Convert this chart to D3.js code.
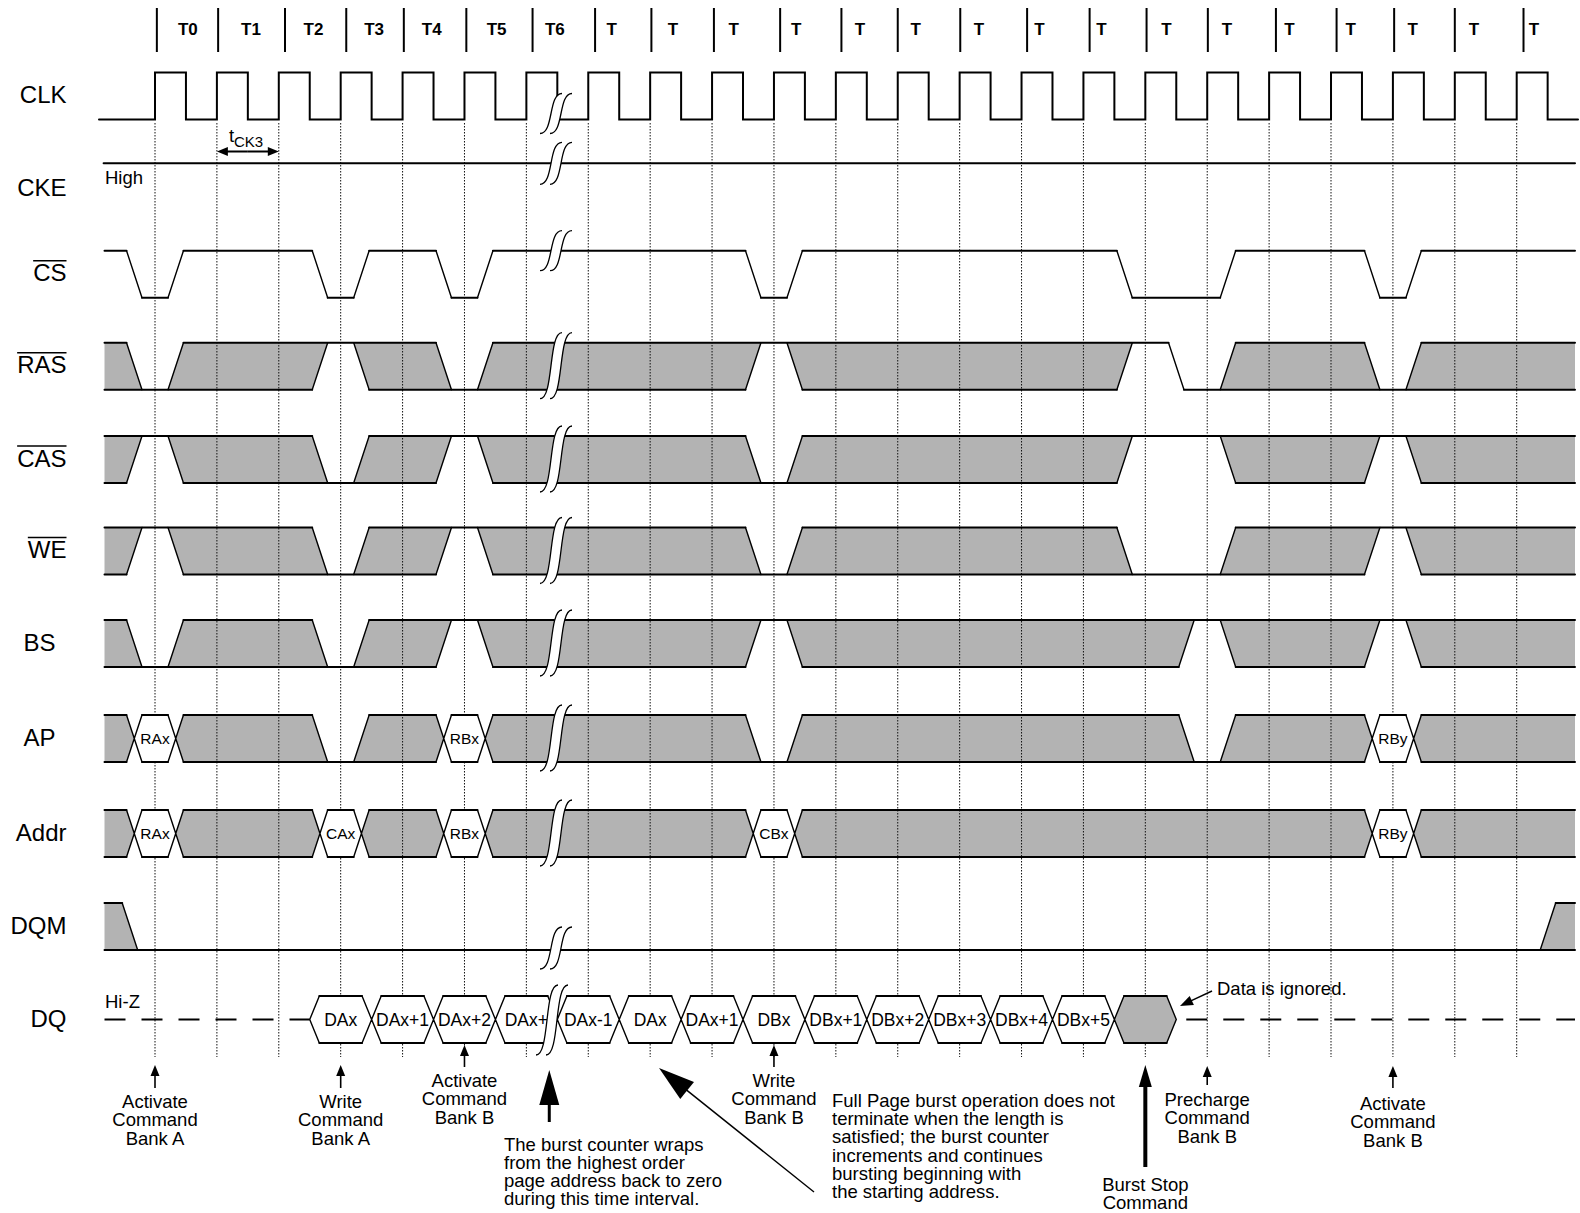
<!DOCTYPE html>
<html>
<head>
<meta charset="utf-8">
<title>Full page burst timing</title>
<script src="https://d3js.org/d3.v7.min.js"></script>
<style>
  body {margin: 0; background: #fff;}
  svg {display: block; background: #fff;}
  text {font-family: "Liberation Sans", Arial, Helvetica, sans-serif; fill: #000;}
  .sig {font-size: 24px;}
  .note {font-size: 18.5px;}
  .hdr {font-size: 17px; font-weight: bold;}
  .hexlab {font-size: 15.5px;}
  .dqlab {font-size: 17.5px;}
  .flat {fill: none; stroke: #000; stroke-width: 2; stroke-linecap: round;}
  .slant {fill: none; stroke: #000; stroke-width: 1.4; stroke-linecap: round;}
  .grey {fill: #b3b3b3; stroke: none;}
  .grid {stroke: #111; stroke-width: 1; stroke-dasharray: 1.5,1.5;}
</style>
</head>
<body>
<svg id="timing" width="1580" height="1213"></svg>
<script>
// ---------- data (times are in clock cycles, edge 0 = T0 rising edge) ----------
var edges = d3.range(0, 23);
var headerTicks = [0.03,1.02,2.1,3.09,4.02,5.03,6.1,7.11,8.02,9.03,10.1,11.09,12.0,13.01,14.09,15.1,16.02,17.01,18.11,19.09,20.02,21.0,22.11];
var headerNames = ["T0","T1","T2","T3","T4","T5","T6","T","T","T","T","T","T","T","T","T","T","T","T","T","T","T","T"];
var headerAt = [0.53,1.55,2.56,3.54,4.47,5.52,6.46,7.38,8.37,9.35,10.36,11.39,12.29,13.31,14.29,15.29,16.34,17.32,18.33,19.32,20.32,21.31,22.28];

var signalNames = ["CLK","CKE","CS","RAS","CAS","WE","BS","AP","Addr","DQM","DQ"];
var activeLow = ["CS","RAS","CAS","WE"];

// [first edge, last edge, level or bus value]; everything else is "don't care"
var csLow   = [[0,0],[3,3],[5,5],[10,10],[16,17],[20,20]];
var rasWin  = [[0,0,"L"],[3,3,"H"],[5,5,"L"],[10,10,"H"],[16,16,"H"],[17,17,"L"],[20,20,"L"]];
var casWin  = [[0,0,"H"],[3,3,"L"],[5,5,"H"],[10,10,"L"],[16,17,"H"],[20,20,"H"]];
var weWin   = [[0,0,"H"],[3,3,"L"],[5,5,"H"],[10,10,"L"],[16,17,"L"],[20,20,"H"]];
var bsWin   = [[0,0,"L"],[3,3,"L"],[5,5,"H"],[10,10,"H"],[17,17,"H"],[20,20,"H"]];
var apWin   = [[0,0,"RAx"],[3,3,"L"],[5,5,"RBx"],[10,10,"L"],[17,17,"L"],[20,20,"RBy"]];
var addrWin = [[0,0,"RAx"],[3,3,"CAx"],[5,5,"RBx"],[10,10,"CBx"],[20,20,"RBy"]];
var dqmWin  = [[-0.07,22.17,"L"]];

var dqCycles = d3.range(3, 17);
var dqLabels = ["DAx","DAx+1","DAx+2","DAx+","DAx-1","DAx","DAx+1","DBx","DBx+1","DBx+2","DBx+3","DBx+4","DBx+5",""];

var cmdEdges = [0, 3, 5, 10, 17, 20];
var cmdText = [["Activate","Command","Bank A"],["Write","Command","Bank A"],["Activate","Command","Bank B"],
               ["Write","Command","Bank B"],["Precharge","Command","Bank B"],["Activate","Command","Bank B"]];
var wrapAt = 6.37;
var wrapNote = ["The burst counter wraps","from the highest order","page address back to zero","during this time interval."];
var fullPageNote = ["Full Page burst operation does not","terminate when the length is","satisfied; the burst counter",
                    "increments and continues","bursting beginning with","the starting address."];
var stopAt = 16;
var stopNote = ["Burst Stop","Command"];
var ignoreNote = "Data is ignored.";

// ---------- layout ----------
var svg = d3.select("#timing");
var x = d3.scaleLinear().domain([0, 22]).range([155, 1516.7]);
var unit = x(1) - x(0);
var SW = 0.25 * unit;     // slope width of a transition
var P = 0.21;             // half width of a valid window, cycles
var HW = 0.155 * unit;    // half crossing width on DQ
var X0 = 104.5, X1 = 1575;
var ROW_H = 47;
var clkTop = 72.5, ckeY = 163.3;
var rowTop = [250.7, 342.7, 436, 527.5, 620, 715, 810, 903, 996];  // CS .. DQ
var breakX = 556;

var gFill = svg.append("g"), gGrid = svg.append("g"), gHex = svg.append("g"),
    gLine = svg.append("g"), gText = svg.append("g"), gBreak = svg.append("g"), gNote = svg.append("g");
var segs = [];
function seg(x1, y1, x2, y2) { segs.push([x1, y1, x2, y2]); }

// ---------- header ----------
gLine.selectAll("line.hdr").data(headerTicks).enter().append("line")
  .attr("x1", function(d) { return x(d); }).attr("x2", function(d) { return x(d); })
  .attr("y1", 8).attr("y2", 52).attr("stroke", "#000").attr("stroke-width", 2);
gText.selectAll("text.hdr").data(headerNames).enter().append("text").attr("class", "hdr")
  .attr("x", function(d, i) { return x(headerAt[i]); }).attr("y", 35)
  .attr("text-anchor", "middle").text(function(d) { return d; });

// ---------- grid ----------
gGrid.selectAll("line").data(edges).enter().append("line").attr("class", "grid")
  .attr("x1", function(d) { return x(d); }).attr("x2", function(d) { return x(d); })
  .attr("y1", 123).attr("y2", 1057);

// ---------- CLK ----------
var clkLow = clkTop + ROW_H;
var clkPts = [[99, clkLow]];
edges.forEach(function(k) {
  clkPts.push([x(k), clkLow], [x(k), clkTop], [x(k + 0.5), clkTop], [x(k + 0.5), clkLow]);
});
clkPts.push([1578, clkLow]);
gLine.append("path").attr("class", "flat").attr("stroke-linecap", "butt").attr("d", d3.line()(clkPts));

// tCK3
function arrow(g, x1, y1, x2, y2, len, half, w) {
  var dx = x2 - x1, dy = y2 - y1, L = Math.hypot(dx, dy), ux = dx / L, uy = dy / L;
  var bx = x2 - ux * len, by = y2 - uy * len;
  if (L > len) g.append("line").attr("x1", x1).attr("y1", y1).attr("x2", bx + ux).attr("y2", by + uy)
    .attr("stroke", "#000").attr("stroke-width", w);
  g.append("path").attr("fill", "#000")
    .attr("d", "M" + x2 + "," + y2 + "L" + (bx - uy * half) + "," + (by + ux * half) + "L" + (bx + uy * half) + "," + (by - ux * half) + "Z");
}
var tck = gText.append("text").attr("x", x(1) + 12).attr("y", 142).style("font-size", "18.5px");
tck.append("tspan").text("t");
tck.append("tspan").attr("dy", 5).style("font-size", "15px").text("CK3");
arrow(gNote, (x(1) + x(2)) / 2, 151.5, x(1), 151.5, 11, 4.5, 2);
arrow(gNote, (x(1) + x(2)) / 2, 151.5, x(2), 151.5, 11, 4.5, 2);

// ---------- CKE ----------
seg(103.6, ckeY, X1, ckeY);
gText.append("text").attr("class", "note").attr("x", 105).attr("y", 184).text("High");

// ---------- CS ----------
(function() {
  var y0 = rowTop[0], y1 = y0 + ROW_H, cur = X0;
  csLow.forEach(function(d) {
    var a = x(d[0] - P), b = x(d[1] + P);
    seg(cur, y0, a - SW, y0); seg(a - SW, y0, a, y1); seg(a, y1, b, y1); seg(b, y1, b + SW, y0);
    cur = b + SW;
  });
  seg(cur, y0, X1, y0);
})();

// ---------- bus / don't-care rows ----------
function busRow(wins, y0) {
  var y1 = y0 + ROW_H, ym = (y0 + y1) / 2;
  var w = wins.map(function(d) { return {a: x(d[0] - P), b: x(d[1] + P), v: d[2]}; });
  function lvl(v) { return v === "H" ? y0 : y1; }
  function rightEdge(d) {
    if (!d) return {t: X1, b: X1};
    if (d.v === "H") return {t: d.a, b: d.a - SW};
    if (d.v === "L") return {t: d.a - SW, b: d.a};
    return {t: d.a - SW, b: d.a - SW, m: d.a - SW / 2};
  }
  function leftEdge(d) {
    if (!d) return {t: X0, b: X0};
    if (d.v === "H") return {t: d.b, b: d.b + SW};
    if (d.v === "L") return {t: d.b + SW, b: d.b};
    return {t: d.b + SW, b: d.b + SW, m: d.b + SW / 2};
  }
  for (var i = 0; i <= w.length; i++) {
    var prev = w[i - 1], next = w[i];
    if (prev && next && next.a - prev.b < 0.7 * unit) {
      var m = (prev.b + next.a) / 2, yp = lvl(prev.v), yn = lvl(next.v);
      seg(prev.b, yp, m - SW / 2, yp); seg(m - SW / 2, yp, m + SW / 2, yn); seg(m + SW / 2, yn, next.a, yn);
      continue;
    }
    var L = leftEdge(prev), R = rightEdge(next);
    var pts = [[L.t, y0], [R.t, y0]];
    if (R.m !== undefined) pts.push([R.m, ym]);
    pts.push([R.b, y1], [L.b, y1]);
    if (L.m !== undefined) pts.push([L.m, ym]);
    gFill.append("path").attr("class", "grey").attr("d", d3.line()(pts) + "Z");
    seg(L.t, y0, R.t, y0); seg(L.b, y1, R.b, y1);
    if (next) {
      if (R.m !== undefined) { seg(R.t, y0, R.m, ym); seg(R.m, ym, R.b, y1); } else seg(R.t, y0, R.b, y1);
    }
    if (prev) {
      if (L.m !== undefined) { seg(L.t, y0, L.m, ym); seg(L.m, ym, L.b, y1); } else seg(L.t, y0, L.b, y1);
    }
  }
  w.forEach(function(d) {
    if (d.v === "H") seg(d.a, y0, d.b, y0);
    else if (d.v === "L") seg(d.a, y1, d.b, y1);
    else {
      var hp = [[d.a - SW / 2, ym], [d.a, y0], [d.b, y0], [d.b + SW / 2, ym], [d.b, y1], [d.a, y1]];
      gHex.append("path").attr("fill", "#fff").attr("d", d3.line()(hp) + "Z");
      for (var j = 0; j < 6; j++) seg(hp[j][0], hp[j][1], hp[(j + 1) % 6][0], hp[(j + 1) % 6][1]);
      gText.append("text").attr("class", "hexlab").attr("x", (d.a + d.b) / 2).attr("y", ym + 5.5)
        .attr("text-anchor", "middle").text(d.v);
    }
  });
}
busRow(rasWin, rowTop[1]);
busRow(casWin, rowTop[2]);
busRow(weWin, rowTop[3]);
busRow(bsWin, rowTop[4]);
busRow(apWin, rowTop[5]);
busRow(addrWin, rowTop[6]);
busRow(dqmWin, rowTop[7]);

// ---------- DQ ----------
(function() {
  var y0 = rowTop[8], y1 = y0 + ROW_H, ym = (y0 + y1) / 2;
  gLine.append("line").attr("x1", X0).attr("x2", x(dqCycles[0] - 0.5)).attr("y1", ym).attr("y2", ym)
    .attr("stroke", "#000").attr("stroke-width", 2).attr("stroke-dasharray", "21,16");
  var last = dqCycles[dqCycles.length - 1];
  gLine.append("line").attr("x1", x(last + 0.5) + 10).attr("x2", X1).attr("y1", ym).attr("y2", ym)
    .attr("stroke", "#000").attr("stroke-width", 2).attr("stroke-dasharray", "21,16");
  dqCycles.forEach(function(c, i) {
    var l = x(c - 0.5), r = x(c + 0.5);
    var hp = [[l, ym], [l + HW, y0], [r - HW, y0], [r, ym], [r - HW, y1], [l + HW, y1]];
    gHex.append("path").attr("fill", dqLabels[i] ? "#fff" : "#b3b3b3").attr("d", d3.line()(hp) + "Z");
    for (var j = 0; j < 6; j++) seg(hp[j][0], hp[j][1], hp[(j + 1) % 6][0], hp[(j + 1) % 6][1]);
    gText.append("text").attr("class", "dqlab").attr("x", x(c)).attr("y", ym + 6)
      .attr("text-anchor", "middle").text(dqLabels[i]);
  });
  gText.append("text").attr("class", "note").attr("x", 105).attr("y", 1008).text("Hi-Z");
})();

// draw collected segments
gLine.append("path").attr("class", "flat")
  .attr("d", segs.filter(function(s) { return s[1] === s[3]; }).map(function(s) { return "M" + s[0] + "," + s[1] + "L" + s[2] + "," + s[3]; }).join(""));
gLine.append("path").attr("class", "slant")
  .attr("d", segs.filter(function(s) { return s[1] !== s[3]; }).map(function(s) { return "M" + s[0] + "," + s[1] + "L" + s[2] + "," + s[3]; }).join(""));

// ---------- signal names ----------
var labelY = [clkTop + ROW_H / 2 + 7, 196].concat(rowTop.map(function(t) { return t + ROW_H / 2 + 7; }));
signalNames.forEach(function(name, i) {
  var centred = (name === "BS" || name === "AP");
  var t = gText.append("text").attr("class", "sig")
    .attr("x", centred ? 39.5 : 66.5).attr("y", labelY[i])
    .attr("text-anchor", centred ? "middle" : "end").text(name);
  if (activeLow.indexOf(name) >= 0) {
    var len = t.node().getComputedTextLength();
    gText.append("line").attr("x1", 66.5 - len).attr("x2", 66.5)
      .attr("y1", labelY[i] - 20.5).attr("y2", labelY[i] - 20.5)
      .attr("stroke", "#000").attr("stroke-width", 1.6);
  }
});

// ---------- breaks ----------
function breakMark(cx, yt, yb) {
  var h = yb - yt, ym = (yt + yb) / 2, c2 = cx + 10;
  function fwd(c) {
    return "M" + (c - 11) + "," + yb + "C" + (c - 4) + "," + yb + " " + (c - 2) + "," + (yb - h * 0.25) + " " + c + "," + ym +
           "C" + (c + 2) + "," + (yt + h * 0.25) + " " + (c + 4) + "," + yt + " " + (c + 11) + "," + yt;
  }
  var band = fwd(cx - 5) + "L" + (c2 - 5 + 11) + "," + yt +
    "C" + (c2 - 1) + "," + yt + " " + (c2 - 3) + "," + (yt + h * 0.25) + " " + (c2 - 5) + "," + ym +
    "C" + (c2 - 7) + "," + (yb - h * 0.25) + " " + (c2 - 9) + "," + yb + " " + (c2 - 16) + "," + yb + "Z";
  gBreak.append("path").attr("d", band).attr("fill", "#fff");
  gBreak.append("path").attr("d", fwd(cx - 5)).attr("fill", "none").attr("stroke", "#000").attr("stroke-width", 1.3);
  gBreak.append("path").attr("d", fwd(c2 - 5)).attr("fill", "none").attr("stroke", "#000").attr("stroke-width", 1.3);
}
breakMark(breakX, clkLow - 26, clkLow + 14);
breakMark(breakX, ckeY - 21, ckeY + 21);
breakMark(breakX, rowTop[0] - 20, rowTop[0] + 20);
for (var r = 1; r <= 6; r++) breakMark(breakX, rowTop[r] - 10, rowTop[r] + ROW_H + 9);
breakMark(breakX, rowTop[7] + ROW_H - 23, rowTop[7] + ROW_H + 19);
breakMark(breakX - 4, rowTop[8] - 11, rowTop[8] + ROW_H + 12);

// ---------- notes ----------
var cmdTip = [1065, 1065, 1045, 1045, 1066, 1066];
var cmdTail = [1088, 1088, 1067, 1067, 1085, 1088];
var cmdBase = [1108, 1108, 1087, 1087, 1106, 1110];
cmdEdges.forEach(function(e, i) {
  arrow(gNote, x(e), cmdTail[i], x(e), cmdTip[i], 11, 4.5, 1.6);
  cmdText[i].forEach(function(s, j) {
    gNote.append("text").attr("class", "note").attr("x", x(e)).attr("y", cmdBase[i] + j * 18.3)
      .attr("text-anchor", "middle").text(s);
  });
});

arrow(gNote, x(wrapAt), 1122, x(wrapAt), 1070, 35, 10, 3);
wrapNote.forEach(function(s, j) {
  gNote.append("text").attr("class", "note").attr("x", 504).attr("y", 1151 + j * 18).text(s);
});

arrow(gNote, 814, 1192, 659, 1068, 36, 11, 1.5);
fullPageNote.forEach(function(s, j) {
  gNote.append("text").attr("class", "note").attr("x", 832).attr("y", 1107 + j * 18.2).text(s);
});

arrow(gNote, x(stopAt), 1167, x(stopAt), 1065, 22, 6.5, 4);
stopNote.forEach(function(s, j) {
  gNote.append("text").attr("class", "note").attr("x", x(stopAt)).attr("y", 1191 + j * 18)
    .attr("text-anchor", "middle").text(s);
});

arrow(gNote, 1212, 991, 1180, 1006, 13, 5, 1.4);
gNote.append("text").attr("class", "note").attr("x", 1217).attr("y", 995).text(ignoreNote);
</script>
</body>
</html>
